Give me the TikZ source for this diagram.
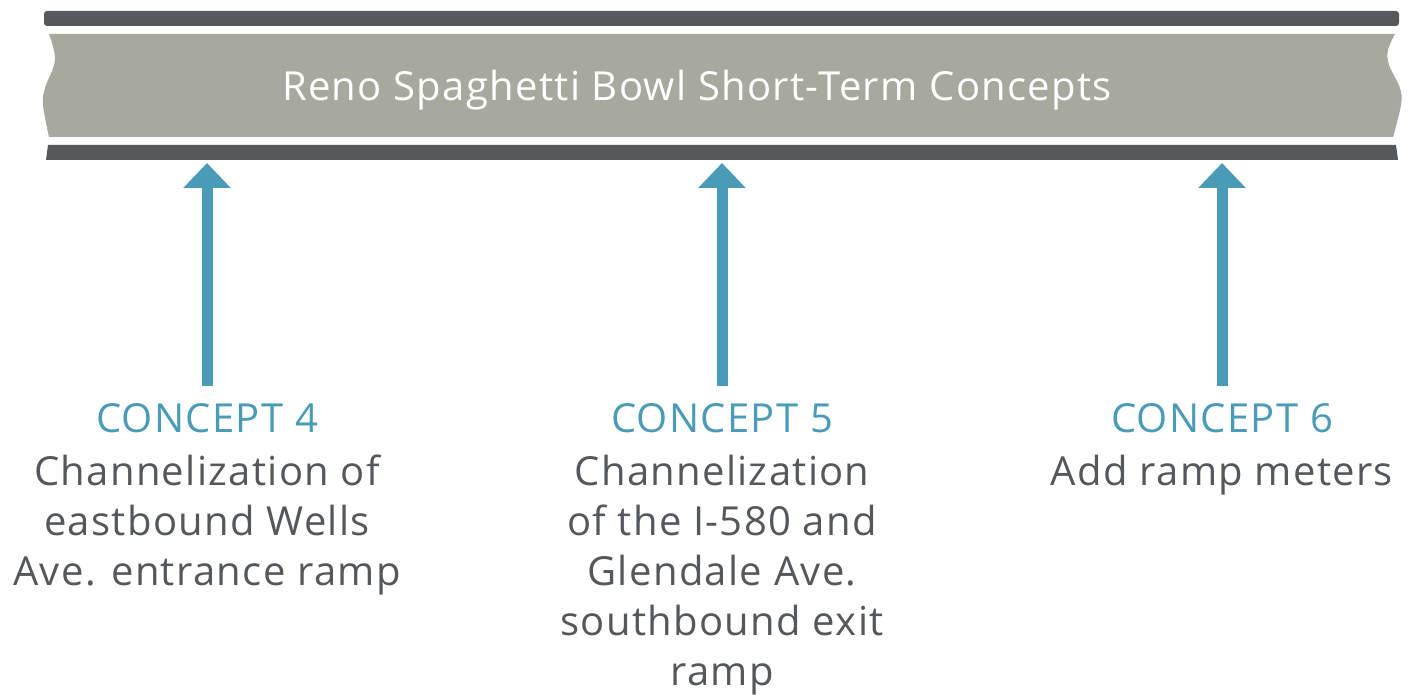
\documentclass[tikz,border=0pt]{standalone}
\usepackage{fontspec}
\setmainfont{Open Sans}[LetterSpace=3.3]
\usetikzlibrary{arrows.meta}
\definecolor{bannergrey}{HTML}{A7A89E}
\definecolor{bardark}{HTML}{55595C}
\definecolor{teal}{HTML}{4A9BB7}
\definecolor{bodytext}{HTML}{55585B}
\tikzset{
  heading/.style={text=teal, font=\fontsize{40}{48}\selectfont, inner sep=0pt, anchor=base},
  body/.style={text=bodytext, font=\fontsize{40}{50}\selectfont, align=center, inner sep=0pt, anchor=north},
  pointer/.style={draw=teal, line width=11pt, -{Triangle[width=46pt,length=25pt]}},
}
\begin{document}
\begin{tikzpicture}[x=1pt,y=-1pt]
\useasboundingbox (0,0) rectangle (1413,695);
% dark rails above and below the banner
\fill[bardark, rounded corners=3pt] (44,11) rectangle (1399,26);
\fill[bardark] (48,145) -- (1396,145) -- (1398,160) -- (46,160) -- cycle;
% banner with wavy ends
\fill[bannergrey] plot[smooth, tension=0.6] coordinates {(49,34) (55,60) (45,88) (43,105) (49,137)}
  -- plot[smooth, tension=0.6] coordinates {(1393,137) (1401,105) (1400,88) (1389,65) (1388,50) (1395,34)} -- cycle;
\node[text=white, font=\fontsize{40}{48}\selectfont, inner sep=0pt, anchor=base] (title) at (697,101) {Reno Spaghetti Bowl Short-Term Concepts};
\coordinate (rail) at (0,163);
% concept labels
\node[heading] (c4) at (207,432) {CONCEPT 4};
\node[heading] (c5) at (722,432) {CONCEPT 5};
\node[heading] (c6) at (1222,432) {CONCEPT 6};
\node[body] (b4) at (207,455) {Channelization of\\eastbound Wells\\Ave. entrance ramp};
\node[body] (b5) at (722,455) {Channelization\\of the I-580 and\\Glendale Ave.\\southbound exit\\ramp};
\node[body] (b6) at (1222,455) {Add ramp meters};
% arrows up to the banner
\foreach \c in {c4,c5,c6}
  \draw[pointer] ([yshift=17pt]\c.north) -- (\c |- rail);
\end{tikzpicture}
\end{document}
